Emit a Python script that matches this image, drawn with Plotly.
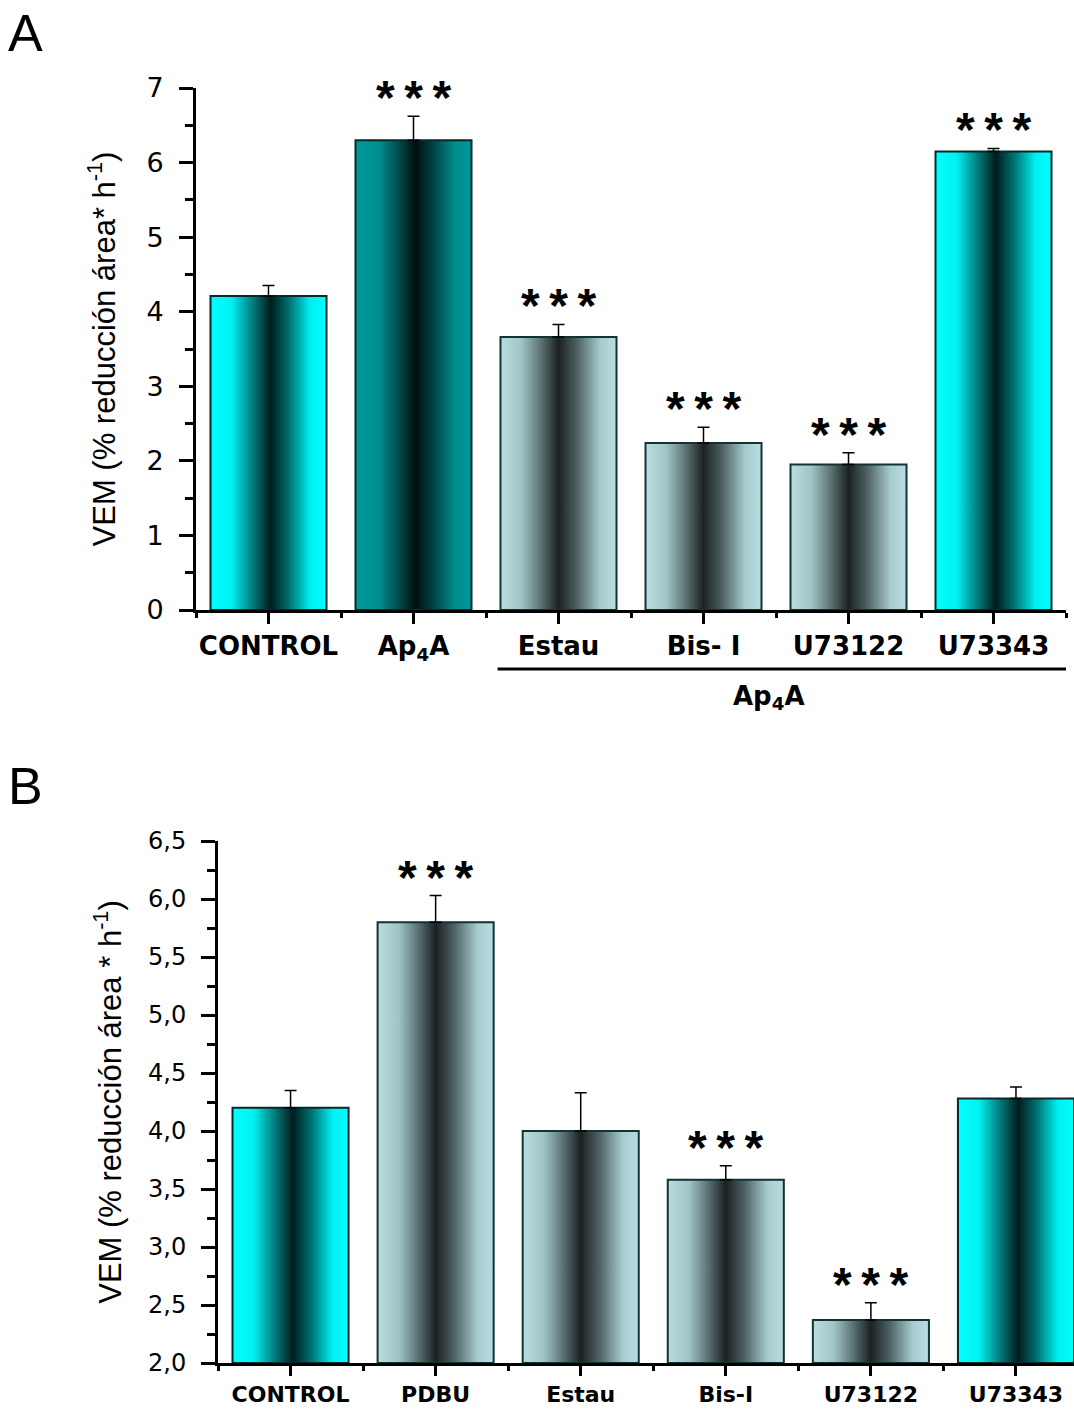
import plotly.graph_objects as go

# ---------------- data ----------------
cats_A = ["CONTROL", "Ap<sub>4</sub>A", "Estau", "Bis- I", "U73122", "U73343"]
vals_A = [4.21, 6.30, 3.66, 2.24, 1.95, 6.15]
err_A = [0.14, 0.32, 0.17, 0.21, 0.16, 0.04]
sig_A = [False, True, True, True, True, True]
kind_A = ["cyan", "teal", "gray", "gray", "gray", "cyan"]

cats_B = ["CONTROL", "PDBU", "Estau", "Bis-I", "U73122", "U73343"]
vals_B = [4.20, 5.80, 4.00, 3.58, 2.37, 4.28]
err_B = [0.15, 0.23, 0.33, 0.12, 0.15, 0.10]
sig_B = [False, True, False, True, True, False]
kind_B = ["cyan", "gray", "gray", "gray", "gray", "cyan"]

group_label_A = "Ap<sub>4</sub>A"
ytitle_A = "VEM (% reducción área* h<sup>-1</sup>)"
ytitle_B = "VEM (% reducción área * h<sup>-1</sup>)"

# ---------------- styles ----------------
W, H = 1074, 1409
FONT = "Liberation Sans, Arial, Helvetica, sans-serif"
WIDE = "DejaVu Sans, Liberation Sans, Arial, sans-serif"
BAR_W = 0.8

SCALES = {
    "cyan": [[0.0, "#00ffff"], [0.18, "#00f2f2"], [0.34, "#008a8a"], [0.52, "#001c1c"],
             [0.68, "#007272"], [0.86, "#00f0f0"], [1.0, "#00ffff"]],
    "teal": [[0.0, "#009a9a"], [0.2, "#008e8e"], [0.36, "#005050"], [0.52, "#000f0f"],
             [0.68, "#004848"], [0.86, "#008c8c"], [1.0, "#009a9a"]],
    "gray": [[0.0, "#b9dde0"], [0.18, "#a2c4c7"], [0.34, "#5f7676"], [0.5, "#1b2123"],
             [0.66, "#4e6163"], [0.86, "#a7cbce"], [1.0, "#b9dde0"]],
}
EDGE = {"cyan": "#062a2a", "teal": "#062a2a", "gray": "#0e3434"}

fig = go.Figure()


def add_panel(vals, errs, sigs, kinds, base, xa, ya):
    n = len(vals)
    for i in range(n):
        x0, x1 = i - BAR_W / 2, i + BAR_W / 2
        fig.add_trace(go.Scatter(
            x=[x0, x0, x1, x1, x0], y=[base, vals[i], vals[i], base, base],
            mode="lines", fill="toself",
            fillgradient=dict(type="horizontal", colorscale=SCALES[kinds[i]]),
            line=dict(color=EDGE[kinds[i]], width=2),
            hoverinfo="skip", showlegend=False, xaxis=xa, yaxis=ya))
    fig.add_trace(go.Scatter(
        x=list(range(n)), y=vals, mode="markers",
        marker=dict(size=1, color="rgba(0,0,0,0)"),
        error_y=dict(type="data", symmetric=False, array=errs, arrayminus=[0] * n,
                     color="black", thickness=1.5, width=6),
        hoverinfo="skip", showlegend=False, xaxis=xa, yaxis=ya))
    for i in range(n):
        if sigs[i]:
            fig.add_annotation(
                x=i, y=vals[i] + errs[i], xref=xa, yref=ya,
                text="*\u2009*\u2009*", showarrow=False, yanchor="bottom",
                yshift=-10, font=dict(family=FONT, size=48, color="black", weight="bold"))


add_panel(vals_A, err_A, sig_A, kind_A, 0, "x", "y")
add_panel(vals_B, err_B, sig_B, kind_B, 2.0, "x2", "y2")

axis_common = dict(showline=True, linecolor="black", linewidth=3, ticks="outside",
                   tickcolor="black", tickwidth=2.5, showgrid=False, zeroline=False,
                   mirror=False, automargin=False)

fig.update_layout(
    width=W, height=H, margin=dict(l=0, r=0, t=0, b=0, autoexpand=False),
    paper_bgcolor="white", plot_bgcolor="white", separators=", ",
    font=dict(family=FONT, color="black"),
    showlegend=False,
    xaxis=dict(axis_common, domain=[196 / W, 1066 / W], range=[-0.5, 5.5],
               tickmode="array", tickvals=list(range(6)), ticktext=cats_A,
               ticklen=11, ticklabelstandoff=0,
               tickfont=dict(family=WIDE, size=26, weight="bold"),
               minor=dict(tickmode="array", tickvals=[k + 0.5 for k in range(-1, 6)],
                          ticks="outside", ticklen=5, tickwidth=2.5, tickcolor="black"),
               anchor="y"),
    yaxis=dict(axis_common, domain=[799 / H, 1321 / H], range=[0, 7], dtick=1, tick0=0,
               ticklen=14, ticklabelstandoff=10,
               tickfont=dict(family=WIDE, size=27),
               minor=dict(dtick=0.5, tick0=0, ticks="outside", ticklen=8, tickwidth=2.5,
                          tickcolor="black"),
               title=dict(text=ytitle_A, font=dict(family=FONT, size=31), standoff=22),
               anchor="x"),
    xaxis2=dict(axis_common, domain=[218 / W, 1.0], range=[-0.5, 5.4],
                tickmode="array", tickvals=list(range(6)), ticktext=cats_B,
                ticklen=10, ticklabelstandoff=0,
                tickfont=dict(family=WIDE, size=22, weight="bold"),
                minor=dict(tickmode="array", tickvals=[k + 0.5 for k in range(-1, 6)],
                           ticks="outside", ticklen=5, tickwidth=2.5, tickcolor="black"),
                anchor="y2"),
    yaxis2=dict(axis_common, domain=[46 / H, 568 / H], range=[2.0, 6.5], dtick=0.5, tick0=2,
                tickformat=".1f", ticklen=14, ticklabelstandoff=10,
                tickfont=dict(family=WIDE, size=24),
                minor=dict(dtick=0.25, tick0=2, ticks="outside", ticklen=8, tickwidth=2.5,
                           tickcolor="black"),
                title=dict(text=ytitle_B, font=dict(family=FONT, size=31), standoff=18),
                anchor="x2"),
)

# group bracket under Estau..U73343 in panel A
fig.add_shape(type="line", xref="x", yref="paper",
              x0=2 - BAR_W / 2 - 0.02, x1=5.55, y0=1 - 669 / H, y1=1 - 669 / H,
              line=dict(color="black", width=3))
fig.add_annotation(xref="x", yref="paper", x=3.45, y=1 - 697 / H,
                   text=group_label_A, showarrow=False, yanchor="middle",
                   font=dict(family=WIDE, size=26, weight="bold"))

# panel letters
fig.add_annotation(xref="paper", yref="paper", x=6 / W, y=1 - 2 / H, xanchor="left",
                   yanchor="top", text="A", showarrow=False,
                   font=dict(family=FONT, size=52, color="black"))
fig.add_annotation(xref="paper", yref="paper", x=6 / W, y=1 - 755 / H, xanchor="left",
                   yanchor="top", text="B", showarrow=False,
                   font=dict(family=FONT, size=52, color="black"))

fig.write_html("out.html")
